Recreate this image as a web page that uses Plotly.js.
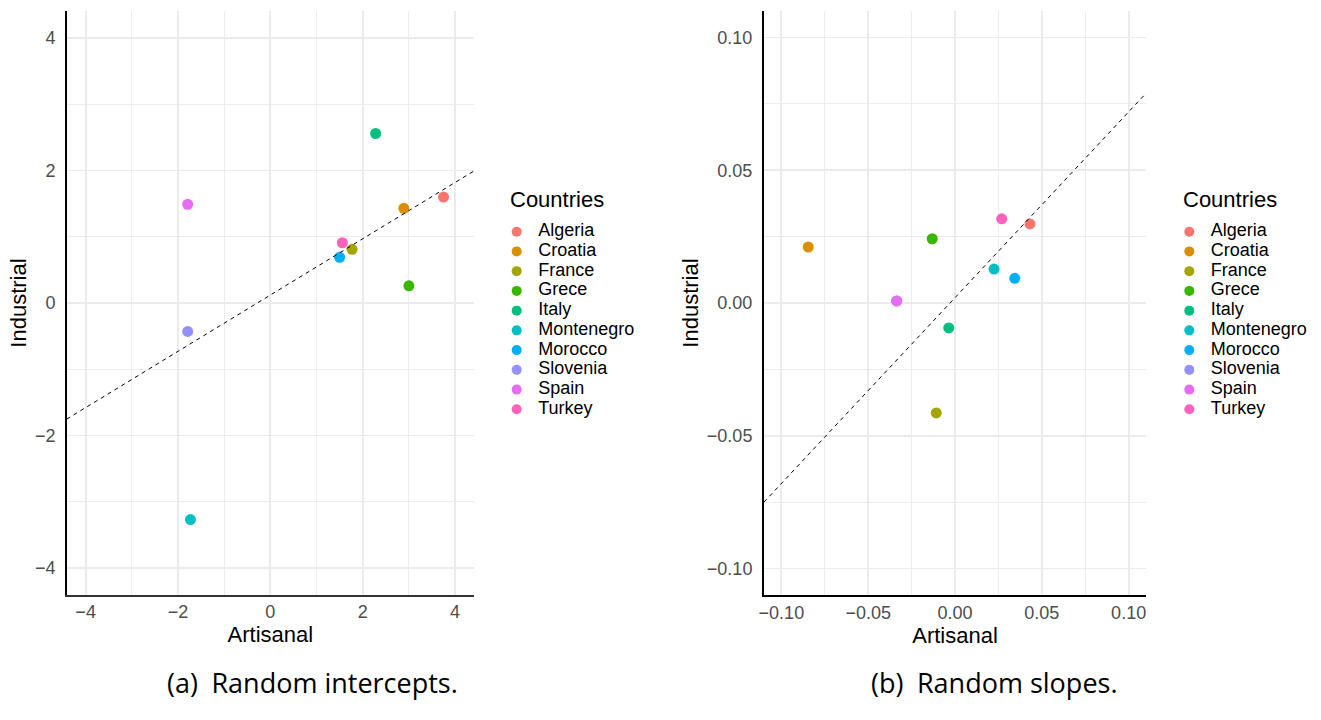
<!DOCTYPE html>
<html>
<head>
<meta charset="utf-8">
<script src="https://cdn.plot.ly/plotly-3.0.1.min.js"></script>
<style>html,body{margin:0;padding:0;background:#fff;}#chart{width:1321px;height:720px;}</style>
</head>
<body>
<div id="chart"></div>
<script>
// ---------- data ----------
const countries = ["Algeria","Croatia","France","Grece","Italy","Montenegro","Morocco","Slovenia","Spain","Turkey"];
const colors = ["#F8766D","#D89000","#A3A500","#39B600","#00BF7D","#00BFC4","#00B0F6","#9590FF","#E76BF3","#FF62BC"];

// (a) Random intercepts
const interceptArtisanal = [3.75, 2.89, 1.77, 3.00, 2.28, -1.73, 1.50, -1.79, -1.79, 1.56];
const interceptIndustrial = [1.60, 1.43, 0.81, 0.26, 2.56, -3.27, 0.69, -0.43, 1.49, 0.91];

// (b) Random slopes
const slopeArtisanal = [0.0432, -0.0845, -0.0108, -0.0131, -0.0036, 0.0225, 0.0344, -0.0336, -0.0336, 0.0269];
const slopeIndustrial = [0.0298, 0.0211, -0.0414, 0.0242, -0.0094, 0.0128, 0.0093, 0.0008, 0.0008, 0.0317];

// reference lines (intercept, slope) for panel a and b
const ablineIntercept = [0.12, 0.002];
const ablineSlope = [0.425, 0.70];

// tick settings
const ticksA = {dtick: 2, minor: 1, format: "d"};
const ticksB = {dtick: 0.05, minor: 0.025, format: ".2f"};

// ---------- layout helpers ----------
const W = 1321, H = 720;
const px = v => v / W;
const py = v => 1 - v / H;
const rangeA = [-4.41, 4.41];
const rangeB = [-0.11, 0.11];
const FONT = "'Liberation Sans', Arial, Helvetica, sans-serif";
const CAPFONT = "'Open Sans', 'Noto Sans', sans-serif";

const traces = [];
countries.forEach((c, i) => {
  traces.push({
    type: "scatter", mode: "markers", name: c, showlegend: false,
    x: [interceptArtisanal[i]], y: [interceptIndustrial[i]],
    xaxis: "x", yaxis: "y",
    marker: {color: colors[i], size: 11}
  });
});
countries.forEach((c, i) => {
  traces.push({
    type: "scatter", mode: "markers", name: c, showlegend: false,
    x: [slopeArtisanal[i]], y: [slopeIndustrial[i]],
    xaxis: "x2", yaxis: "y2",
    marker: {color: colors[i], size: 11}
  });
});
[[rangeA, "x", "y"], [rangeB, "x2", "y2"]].forEach(([r, xa, ya], k) => {
  traces.push({
    type: "scatter", mode: "lines", showlegend: false, hoverinfo: "skip",
    x: r, y: r.map(v => ablineIntercept[k] + ablineSlope[k] * v),
    xaxis: xa, yaxis: ya,
    line: {color: "#000", width: 1, dash: "4px,4px"}
  });
});
// ggplot-style legends
[["x3","y3"],["x4","y4"]].forEach(([xa, ya]) => {
  traces.push({
    type: "scatter", mode: "markers", showlegend: false, hoverinfo: "skip",
    x: countries.map(() => 0), y: countries,
    xaxis: xa, yaxis: ya, cliponaxis: false,
    marker: {color: colors, size: 10}
  });
  traces.push({
    type: "scatter", mode: "text", showlegend: false, hoverinfo: "skip",
    x: countries.map(() => 21.5), y: countries, text: countries,
    textposition: "middle right",
    xaxis: xa, yaxis: ya, cliponaxis: false,
    textfont: {family: FONT, size: 18, color: "#000"}
  });
});

const gridColor = "#EBEBEB";
function dataAxis(domain, range, t, title, lineColor, lineWidth, standoff, labelStandoff, anchor) {
  return {
    domain: domain, range: range, autorange: false, anchor: anchor,
    tickmode: "linear", tick0: 0, dtick: t.dtick, tickformat: t.format,
    showgrid: true, gridcolor: gridColor, gridwidth: 1.8,
    zeroline: false, ticks: "",
    showline: true, linecolor: lineColor, linewidth: lineWidth,
    tickfont: {family: FONT, size: 18, color: "#4D4D4D"},
    ticklabelstandoff: labelStandoff,
    minor: {tick0: 0, dtick: t.minor, showgrid: true, gridcolor: gridColor, gridwidth: 0.9, ticks: ""},
    title: {text: title, font: {family: FONT, size: 22, color: "#000"}, standoff: standoff},
    fixedrange: true
  };
}

const layout = {
  width: W, height: H,
  margin: {l: 0, r: 0, t: 0, b: 0},
  paper_bgcolor: "#fff", plot_bgcolor: "#fff",
  showlegend: false,
  font: {family: FONT},
  xaxis: dataAxis([px(66.7), px(474)], rangeA, ticksA, "Artisanal", "#333", 1.5, 3, 0, "y"),
  yaxis: dataAxis([py(595), py(11)], rangeA, ticksA, "Industrial", "#000", 1.5, 2, 6, "x"),
  xaxis2: dataAxis([px(764), px(1146)], rangeB, ticksB, "Artisanal", "#000", 2, 2, 0, "y2"),
  yaxis2: dataAxis([py(595), py(11)], rangeB, ticksB, "Industrial", "#000", 2, 2, 6, "x2"),
  xaxis3: {domain: [px(516.7), px(616.7)], range: [0, 100], visible: false, showgrid: false, zeroline: false, fixedrange: true, anchor: "y3"},
  yaxis3: {domain: [py(419.2), py(221.8)], type: "category", categoryarray: countries, categoryorder: "array", range: [9.5, -0.5], visible: false, showgrid: false, fixedrange: true, anchor: "x3"},
  xaxis4: {domain: [px(1189.3), px(1289.3)], range: [0, 100], visible: false, showgrid: false, zeroline: false, fixedrange: true, anchor: "y4"},
  yaxis4: {domain: [py(419.2), py(221.8)], type: "category", categoryarray: countries, categoryorder: "array", range: [9.5, -0.5], visible: false, showgrid: false, fixedrange: true, anchor: "x4"},
  annotations: [
    {text: "Countries", xref: "paper", yref: "paper", x: px(508.3), y: py(199), xanchor: "left", yanchor: "middle", showarrow: false, font: {family: FONT, size: 22, color: "#000"}},
    {text: "Countries", xref: "paper", yref: "paper", x: px(1180.7), y: py(199), xanchor: "left", yanchor: "middle", showarrow: false, font: {family: FONT, size: 22, color: "#000"}},
    {text: "(a)\u2002Random intercepts.", xref: "paper", yref: "paper", x: px(312), y: py(682), xanchor: "center", yanchor: "middle", showarrow: false, font: {family: CAPFONT, size: 27, color: "#000"}},
    {text: "(b)\u2002Random slopes.", xref: "paper", yref: "paper", x: px(994), y: py(682), xanchor: "center", yanchor: "middle", showarrow: false, font: {family: CAPFONT, size: 27, color: "#000"}}
  ]
};

Plotly.newPlot("chart", traces, layout, {staticPlot: true, displayModeBar: false});
</script>
</body>
</html>
